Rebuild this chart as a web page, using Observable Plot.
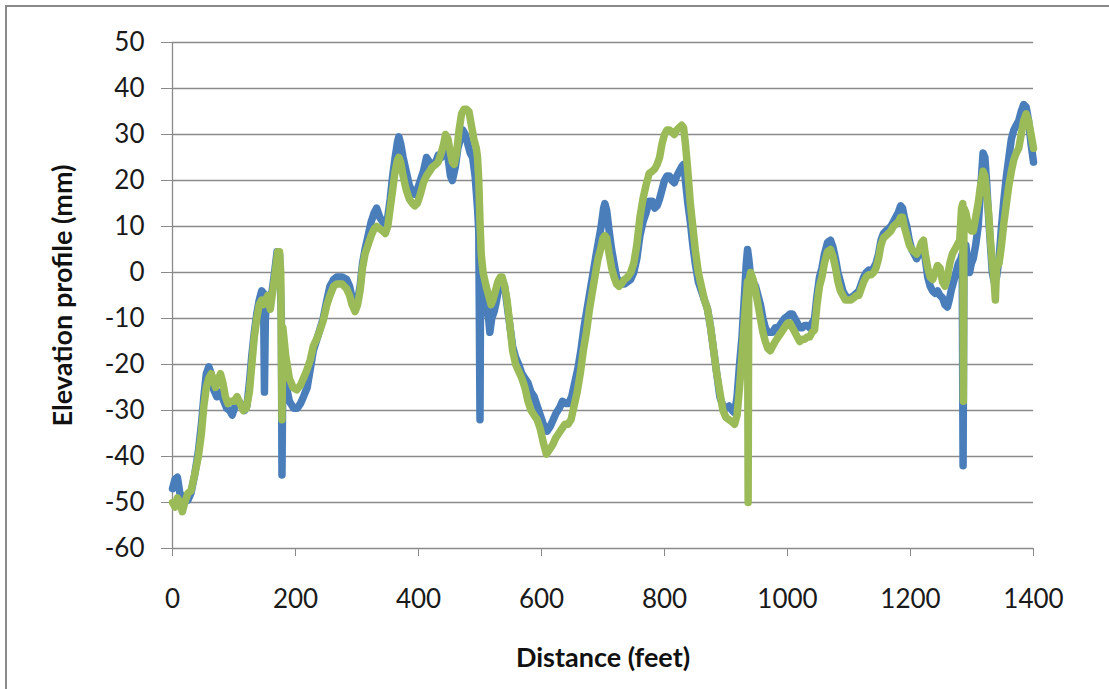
<!DOCTYPE html>
<html>
<head>
<meta charset="utf-8">
<script src="https://cdn.jsdelivr.net/npm/d3@7"></script>
<script src="https://cdn.jsdelivr.net/npm/@observablehq/plot@0.6"></script>
<style>
  html, body { margin: 0; padding: 0; background: #fff; }
  #wrap { position: relative; width: 1109px; height: 689px; overflow: hidden; }
  #frame { position: absolute; left: 5px; top: 5px; width: 1200px; height: 1000px;
           border-left: 2px solid #8a8a8a; border-top: 2px solid #8a8a8a; pointer-events: none; }
</style>
</head>
<body>
<div id="wrap"><div id="frame"></div></div>
<script>
// ---- data ----
const xTicks = [0, 200, 400, 600, 800, 1000, 1200, 1400];
const yTicks = [-60, -50, -40, -30, -20, -10, 0, 10, 20, 30, 40, 50];

const blueDistance = [0,4,8,12,18,25,30,36,42,47,51,55,59,63,67,72,77,82,88,93,97,102,108,113,117,121,125,129,133,137,141,145,148,149.5,151,154,158,162,166,170,174,177,178,179.5,184,190,197,203,208,213,219,224,229,236,245,251,256,262,267,276,283,288,292,297,301,305,309,313,318,323,328,332,337,342,346,350,354,358,362,366,368,371,375,380,385,390,394,398,403,408,413,418,423,428,432,437,441,444,448,452,455,460,464,468,472,476,480,484,488,492,496,498,500,501,505,510,514,516,519,523,527,531,536,540,544,549,553,558,563,568,573,578,583,588,593,598,603,609,614,619,624,629,634,639,644,649,654,659,664,669,674,679,684,689,693,697,701,703,706,710,714,718,722,726,730,735,740,745,750,755,760,765,770,775,780,784,788,792,796,800,804,808,812,816,820,824,828,831,834,838,842,846,850,855,860,865,870,875,880,885,890,895,900,905,910,914,918,922,926,930,933,935,937,940,944,948,952,956,960,964,968,972,976,980,985,990,995,1000,1004,1008,1012,1016,1020,1024,1028,1032,1036,1040,1044,1048,1052,1056,1060,1065,1070,1074,1078,1082,1086,1090,1094,1098,1103,1108,1112,1116,1120,1124,1128,1132,1136,1140,1144,1148,1152,1156,1160,1164,1168,1172,1176,1180,1184,1187,1190,1194,1198,1202,1206,1210,1214,1218,1221,1224,1228,1232,1236,1240,1244,1248,1252,1256,1260,1263,1266,1270,1274,1278,1282,1284,1285.5,1287,1290,1293,1296,1299,1302,1306,1310,1314,1318,1321,1324,1327,1330,1333,1336,1340,1344,1348,1352,1356,1360,1364,1368,1372,1376,1380,1384,1388,1392,1396,1400];
const blueElevation = [-47,-45,-44.5,-48,-49,-49.5,-48,-44,-39,-33,-27,-22,-20.5,-22,-25.5,-27,-26,-27.5,-29.5,-30,-31,-29,-28,-29,-30,-29,-24,-18,-13,-9,-6,-4,-4.5,-26,-10,-5,-6,-4,0,4.5,4,-10,-44,-20,-24,-28,-29.5,-29.5,-28.5,-27,-25,-21,-17,-14,-10,-6,-3,-1.5,-1,-1,-1.5,-3,-5.5,-8,-6,-3,2,5,8,11,13,14,12,11,10.5,12,16,21,25,28.5,29.5,28,25,22,19,17.5,17,18,20,22,25,24,23.5,24,25.5,25,27,27,25,21,20,23,27,29,31,30,28,26,25,21,14,9,-32,-2,-4,-7,-10,-13,-10,-8.5,-6,-3,-1.5,-3,-7,-12,-16,-18.5,-20,-22,-23,-24,-26,-27,-29,-31,-33,-34.5,-33.5,-32,-30.5,-29.5,-28,-28.5,-28.5,-27,-24,-21,-17,-12,-8,-4,0,4,7,10,14,15,13.5,9,5,2,-1,-2,-2.5,-2.5,-2,-1.5,0,3,8,11,13,15.5,15.5,14,14.5,16,18,20,21,21,20,19.5,21,22,23,23.5,20,15,11,6,2,-2,-4,-6,-8,-12,-17,-22,-27,-29,-29.5,-29,-30,-30.5,-27,-20,-14,-5,2,5,3,-1,-2,-3,-5,-7,-10,-12,-13,-13,-13,-12,-12,-11,-10,-9.5,-9,-9,-10,-11,-12,-12,-11.5,-11.5,-12,-11,-10,-5,-1,1,4,6.5,7,5.5,3,0,-2,-4,-5,-5.5,-5.5,-5,-4.5,-4,-2.5,-1,0,0.5,0,1,2,4,7,8.5,9,9.5,10,11,12,13,14.5,14,12,10,7,5,4,3,4,5.5,6,3,-1,-3,-4,-4.5,-4,-5,-5.5,-7,-7.5,-6,-4,-2,0,2,3,4,-42,5,6,2,0,2,3,6,10,18,26,25,19,12,6,0,-2,-1,3,10,16,21,25,29,31,32,33,35,36.5,36,33,28,24];

const greenDistance = [0,4,8,12,16,20,25,30,36,42,47,51,55,59,63,66,70,74,78,82,86,90,95,100,105,110,115,120,125,129,133,137,141,145,148,151,155,159,163,167,171,174,176,178,179.5,184,190,196,202,208,213,219,224,229,236,245,251,256,262,267,276,283,288,292,297,301,305,309,313,318,323,328,332,337,342,346,350,354,358,362,366,368,371,375,380,385,390,394,398,403,408,413,418,423,428,432,437,441,444,448,452,455,458,462,466,470,474,478,482,486,490,494,496,498,500,502,505,510,514,518,521,525,529,533,536,540,544,549,553,558,563,568,573,578,583,588,593,598,603,608,613,618,623,628,633,638,643,648,653,658,663,668,673,678,683,688,692,696,700,703,706,710,714,718,722,726,730,735,740,745,750,755,760,765,770,775,780,784,788,792,796,800,804,808,812,816,820,824,828,831,834,838,842,846,850,855,860,865,870,875,880,885,890,895,900,905,910,914,918,922,926,930,933,935,936,937,940,944,948,952,956,960,964,968,972,976,980,985,990,995,1000,1004,1008,1012,1016,1020,1024,1028,1032,1036,1040,1044,1048,1052,1056,1060,1065,1070,1074,1078,1082,1086,1090,1094,1098,1103,1108,1112,1116,1120,1124,1128,1132,1136,1140,1144,1148,1152,1156,1160,1164,1168,1172,1176,1180,1184,1187,1190,1194,1198,1202,1206,1210,1214,1218,1221,1224,1228,1232,1236,1240,1244,1248,1252,1256,1260,1264,1268,1272,1276,1280,1283,1285,1286,1287,1290,1293,1296,1299,1302,1306,1310,1314,1318,1321,1324,1327,1330,1333,1336,1338,1340,1344,1348,1352,1356,1360,1364,1368,1372,1376,1380,1384,1388,1392,1396,1400];
const greenElevation = [-50,-51,-49,-50,-52,-50,-48,-47.5,-44,-40,-35,-29,-25,-23,-22,-23,-25,-23.5,-22,-24,-27,-28.5,-28,-28,-27,-28.5,-30,-29.5,-26,-20,-14,-10,-7,-6,-7,-6,-5,-8,-4,0,4.5,4.5,0,-32,-12,-18,-23,-25,-25.5,-24.5,-23,-21,-19,-16,-14,-10.5,-7,-5,-3,-2.5,-2.5,-3.5,-5,-7,-8.5,-7,-4,1,4,6,8,9.5,10,9.5,9,8.5,10,14,18,22,24.5,25,24,21,18,16,15,14.5,15,17,19.5,21,22,23,23.5,24,26,28,30,29,26,24,23.5,26,31,34.5,35.5,35.5,35,32,29,27,25,20,11,4,0,-3,-5,-7,-6,-4,-2,-1,-1,-3,-6,-12,-17,-20,-21.5,-23,-25,-28,-30,-31,-32,-34,-37,-39.5,-38.5,-37.5,-36,-35,-34,-33,-33,-32,-29,-26,-22,-17,-13,-8,-4,0,3,5,7.5,8,7.5,4,1,-1,-2.5,-3,-2.5,-1.5,-1,0,2,6,12,16,19,21.5,22,22.5,23.5,25,28,30,31,31,30.5,30,31,31.5,32,31.5,28,22,15,10,5,0,-3,-6,-8,-12,-17,-22,-26,-30,-31.5,-32,-32.5,-33,-31,-25,-18,-10,-5,-2,-50,-2,0,-1.5,-4,-7,-10,-13,-15,-16.5,-17,-16,-15,-14,-13,-12,-11,-11,-12,-13,-14,-15,-14.5,-14.5,-14,-14,-13,-12.5,-7,-3,-1,2,4.5,5,3.5,1,-2,-4,-5,-6,-6,-6,-5.5,-5,-5,-3.5,-2,-1,-0.5,-0.5,0,1,3,6,7.5,8,8.5,9,10,10.5,11,12,12,10,8,6,5,4.5,4,5,6.5,7,4,1,-1,-1.5,0,1.5,1,-2,-3,-1,2,4,5,6,7,14,15,-28,14,13,11,10,9,9,12,15,19,22,21,17,13,7,2,-2,-6,1,2,6,11,15,19,22,24.5,26,27,30,33,34.5,33,30,27];

const blue = blueDistance.map((d, i) => ({distance: d, elevation: blueElevation[i]}));
const green = greenDistance.map((d, i) => ({distance: d, elevation: greenElevation[i]}));

const FONT = "Lato, 'Open Sans', sans-serif";
const grey = "#8a8a8a";

const chart = Plot.plot({
  width: 1109,
  height: 689,
  marginLeft: 172,
  marginRight: 76,
  marginTop: 42,
  marginBottom: 141,
  style: {fontFamily: FONT, background: "transparent", color: "#1a1a1a"},
  x: {domain: [0, 1400]},
  y: {domain: [-60, 50]},
  marks: [
    Plot.gridY(yTicks, {stroke: grey, strokeOpacity: 1, strokeWidth: 1.3}),
    Plot.axisY(yTicks, {tickSize: 11, tickPadding: 17, stroke: grey, fontSize: 26, fill: "#1a1a1a", label: null, tickFormat: d => String(d)}),
    Plot.axisX(xTicks, {tickSize: 8, tickPadding: 33, stroke: grey, fontSize: 26, fill: "#1a1a1a", label: null, tickFormat: d => String(d)}),
    Plot.ruleX([0], {stroke: grey, strokeWidth: 1.3}),
    Plot.line(blue, {x: "distance", y: "elevation", stroke: "#4a7ebb", strokeWidth: 7.5, strokeLinejoin: "round", strokeLinecap: "round"}),
    Plot.line(green, {x: "distance", y: "elevation", stroke: "#9bbb59", strokeWidth: 7.5, strokeLinejoin: "round", strokeLinecap: "round"}),
    Plot.text(["Elevation profile (mm)"], {frameAnchor: "left", dx: -109, rotate: -90, textAnchor: "middle", lineAnchor: "middle", fontSize: 27, fontWeight: "bold", fill: "#111"}),
    Plot.text(["Distance (feet)"], {frameAnchor: "bottom", dy: 110, textAnchor: "middle", lineAnchor: "middle", fontSize: 27, fontWeight: "bold", fill: "#111"})
  ]
});
document.getElementById("wrap").prepend(chart);
</script>
</body>
</html>
